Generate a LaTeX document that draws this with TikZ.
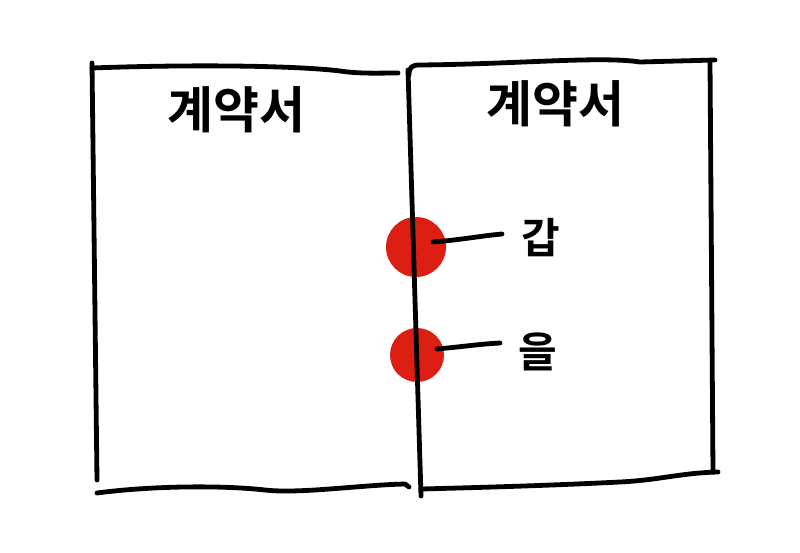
\documentclass[tikz,border=0pt]{standalone}
\usepackage{fontspec}
\newfontfamily\krfont{Noto Sans CJK KR}[BoldFont={Noto Sans CJK KR Bold}]
\definecolor{sealred}{HTML}{DC1F12}
\begin{document}
\begin{tikzpicture}[x=1pt,y=-1pt,
  pen/.style={line width=4.8pt,line cap=round,line join=round,black},
  seal/.style={circle,fill=sealred,inner sep=0pt},
  title/.style={font=\krfont\bfseries\fontsize{50}{52}\selectfont},
  tag/.style={font=\krfont\bfseries\fontsize{42}{44}\selectfont}]
\useasboundingbox (0,0) rectangle (800,553);
% seals
\node[seal,minimum size=60pt] (gap) at (416,247) {};
\node[seal,minimum size=54pt] (eul) at (417,355) {};
% left contract
\draw[pen] (92,63) -- (97,480);
\draw[pen] (92,68) .. controls (200,64) and (300,66) .. (340,71) .. controls (360,74) and (380,73) .. (398,73);
\draw[pen] (97,493) .. controls (150,486) and (220,485) .. (265,490) .. controls (300,494) and (360,485) .. (405,484) -- (409,487);
% right contract
\draw[pen] (409,75) .. controls (409,67) and (412,65) .. (420,65) .. controls (520,64) and (600,56) .. (640,62) -- (715,60);
\draw[pen] (408,70) -- (421,496);
\draw[pen] (710,62) -- (713,472);
\draw[pen] (421,489) .. controls (500,487) and (560,485) .. (620,482) .. controls (660,480) and (680,473) .. (718,472);
% titles
\node[title] (t1) at (236,110) {계약서};
\node[title] (t2) at (555,104) {계약서};
% labels
\node[tag] (lgap) at (541,238) {갑};
\node[tag] (leul) at (538,352) {을};
\coordinate (g1) at (433,242);
\coordinate (g2) at (502,234);
\coordinate (e1) at (437,349);
\coordinate (e2) at (500,343);
\draw[pen] (g1) .. controls (460,240) and (480,236) .. (g2);
\draw[pen] (e1) .. controls (460,347) and (480,344) .. (e2);
\end{tikzpicture}
\end{document}
